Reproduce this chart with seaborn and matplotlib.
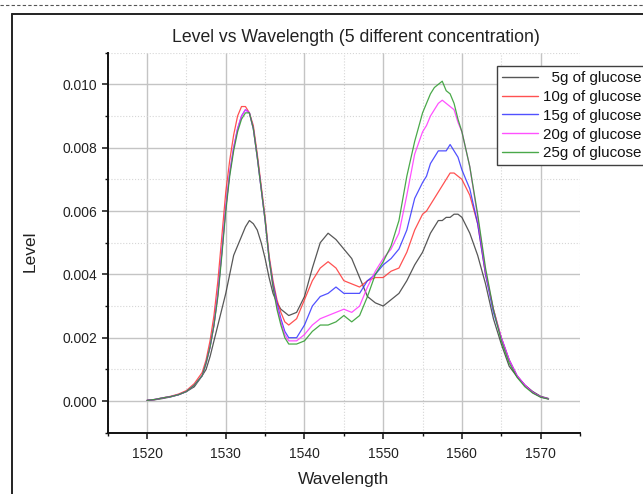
import numpy as np
import pandas as pd
import matplotlib
matplotlib.use("Agg")
import matplotlib.pyplot as plt
from matplotlib.lines import Line2D
from matplotlib.ticker import MultipleLocator, FormatStrFormatter
import seaborn as sns

wavelength = [1520, 1521, 1522, 1523, 1524, 1525, 1526,
              1527, 1527.5, 1528, 1528.5, 1529, 1529.5, 1530, 1530.5, 1531, 1531.5,
              1532, 1532.5, 1533, 1533.5, 1534, 1534.5, 1535, 1535.5, 1536, 1536.5,
              1537, 1537.5, 1538,
              1539, 1540, 1541, 1542, 1543, 1544, 1545, 1546, 1547, 1548, 1549,
              1550, 1551, 1552, 1553, 1554, 1555,
              1555.5, 1556, 1556.5, 1557, 1557.5, 1558, 1558.5, 1559, 1559.5,
              1560, 1561, 1562, 1563, 1564, 1565, 1566, 1567, 1568, 1569, 1570, 1571]

g5 = [0.00002, 0.00004, 0.00008, 0.00013, 0.0002, 0.0003, 0.00045,
      0.0008, 0.0010, 0.0014, 0.0019, 0.0024, 0.0029, 0.0034, 0.0040, 0.0046, 0.0049,
      0.0052, 0.0055, 0.0057, 0.0056, 0.0054, 0.0050, 0.0045, 0.0039, 0.0034, 0.0031,
      0.0029, 0.0028, 0.0027,
      0.0028, 0.0033, 0.0042, 0.0050, 0.0053, 0.0051, 0.0048, 0.0045, 0.0039, 0.0033, 0.0031,
      0.0030, 0.0032, 0.0034, 0.0038, 0.0043, 0.0047,
      0.0050, 0.0053, 0.0055, 0.0057, 0.0057, 0.0058, 0.0058, 0.0059, 0.0059,
      0.0058, 0.0053, 0.0046, 0.0037, 0.0026, 0.0018, 0.0011, 0.00077, 0.0005, 0.0003, 0.00015, 0.00008]

g10 = [0.00002, 0.00005, 0.0001, 0.00015, 0.00022, 0.00033, 0.00055,
       0.0009, 0.0013, 0.0019, 0.0027, 0.0038, 0.0052, 0.0066, 0.0076, 0.0084, 0.0090,
       0.0093, 0.0093, 0.0091, 0.0087, 0.0078, 0.0068, 0.0058, 0.0046, 0.0038, 0.0032,
       0.0028, 0.0025, 0.0024,
       0.0026, 0.0032, 0.0038, 0.0042, 0.0044, 0.0042, 0.0038, 0.0037, 0.0036, 0.0038, 0.0039,
       0.0039, 0.0041, 0.0042, 0.0047, 0.0054, 0.0059,
       0.0060, 0.0062, 0.0064, 0.0066, 0.0068, 0.0070, 0.0072, 0.0072, 0.0071,
       0.0070, 0.0065, 0.0056, 0.0040, 0.0029, 0.0020, 0.0013, 0.0008, 0.0005, 0.00027, 0.00013, 0.00007]

g15 = [0.00002, 0.00005, 0.0001, 0.00014, 0.0002, 0.0003, 0.0005,
       0.0008, 0.0012, 0.0017, 0.0024, 0.0034, 0.0047, 0.0061, 0.0072, 0.0080, 0.0086,
       0.0090, 0.0092, 0.0091, 0.0086, 0.0077, 0.0067, 0.0057, 0.0045, 0.0037, 0.0031,
       0.0026, 0.0022, 0.0020,
       0.0020, 0.0024, 0.0030, 0.0033, 0.0034, 0.0036, 0.0034, 0.0034, 0.0034, 0.0038, 0.0040,
       0.0043, 0.0045, 0.0048, 0.0054, 0.0064, 0.0069,
       0.0071, 0.0075, 0.0077, 0.0079, 0.0079, 0.0079, 0.0081, 0.0079, 0.0077,
       0.0073, 0.0067, 0.0056, 0.0040, 0.0028, 0.0020, 0.0013, 0.0008, 0.0005, 0.00027, 0.00013, 0.00007]

g20 = [0.00002, 0.00005, 0.0001, 0.00014, 0.0002, 0.0003, 0.0005,
       0.0008, 0.0012, 0.0017, 0.0024, 0.0034, 0.0047, 0.0061, 0.0072, 0.0080, 0.0086,
       0.0090, 0.0092, 0.0091, 0.0086, 0.0077, 0.0067, 0.0057, 0.0045, 0.0036, 0.0030,
       0.0025, 0.0021, 0.0019,
       0.0019, 0.0021, 0.0024, 0.0026, 0.0027, 0.0028, 0.0029, 0.0028, 0.0030, 0.0036, 0.0041,
       0.0045, 0.0048, 0.0053, 0.0065, 0.0078, 0.0085,
       0.0087, 0.0090, 0.0092, 0.0094, 0.0095, 0.0094, 0.0093, 0.0092, 0.0088,
       0.0085, 0.0074, 0.0058, 0.0041, 0.0029, 0.0020, 0.0013, 0.0008, 0.0005, 0.00027, 0.00013, 0.00007]

g25 = [0.00002, 0.00005, 0.0001, 0.00014, 0.0002, 0.0003, 0.0005,
       0.0008, 0.0012, 0.0017, 0.0024, 0.0033, 0.0046, 0.0060, 0.0071, 0.0079, 0.0085,
       0.0089, 0.0091, 0.0091, 0.0086, 0.0077, 0.0067, 0.0057, 0.0045, 0.0036, 0.0029,
       0.0024, 0.0020, 0.0018,
       0.0018, 0.0019, 0.0022, 0.0024, 0.0024, 0.0025, 0.0027, 0.0025, 0.0027, 0.0033, 0.0040,
       0.0044, 0.0049, 0.0057, 0.0071, 0.0082, 0.0091,
       0.0094, 0.0097, 0.0099, 0.0100, 0.0101, 0.0098, 0.0097, 0.0094, 0.0089,
       0.0085, 0.0074, 0.0059, 0.0042, 0.0029, 0.0019, 0.0012, 0.00075, 0.00045, 0.00025, 0.00012, 0.00006]

series_labels = ["  5g of glucose", "10g of glucose", "15g of glucose",
                 "20g of glucose", "25g of glucose"]
series_colors = ["#3a3a3a", "#ff3333", "#3333ff", "#ff33ff", "#2a9a2a"]
x_ticks = [1520, 1530, 1540, 1550, 1560, 1570]
y_ticks = [0.000, 0.002, 0.004, 0.006, 0.008, 0.010]

title = "Level vs Wavelength (5 different concentration)"

frames = []
for lab, vals in zip(series_labels, [g5, g10, g15, g20, g25]):
    frames.append(pd.DataFrame({"Wavelength": wavelength, "Level": vals, "Series": lab}))
df = pd.concat(frames, ignore_index=True)

sns.set_style("white")
plt.rcParams["font.family"] = ["Liberation Sans", "DejaVu Sans"]

W, H = 643, 494
fig = plt.figure(figsize=(W / 100, H / 100), dpi=100)
ax_l, ax_r, ax_t, ax_b = 107.7, 580.0, 52.7, 432.7
ax = fig.add_axes([ax_l / W, 1 - ax_b / H, (ax_r - ax_l) / W, (ax_b - ax_t) / H])

sns.lineplot(data=df, x="Wavelength", y="Level", hue="Series",
             palette=dict(zip(series_labels, series_colors)),
             estimator=None, sort=False, linewidth=0.9, alpha=0.85, ax=ax, legend=False)

ax.set_xlim(1515, 1575)
ax.set_ylim(-0.001, 0.011)
ax.xaxis.set_major_locator(MultipleLocator(10))
ax.xaxis.set_minor_locator(MultipleLocator(5))
ax.yaxis.set_major_locator(MultipleLocator(0.002))
ax.yaxis.set_minor_locator(MultipleLocator(0.001))
ax.set_xticks(x_ticks)
ax.set_yticks(y_ticks)
ax.yaxis.set_major_formatter(FormatStrFormatter("%.3f"))

ax.grid(True, which="major", color="#c4c4c4", linewidth=1.0, linestyle="-")
ax.grid(True, which="minor", color="#d6d6d6", linewidth=0.8, linestyle=":")
ax.set_axisbelow(True)

for s in ["top", "right"]:
    ax.spines[s].set_visible(False)
for s in ["left", "bottom"]:
    ax.spines[s].set_color("#111111")
    ax.spines[s].set_linewidth(1.4)

ax.tick_params(axis="both", which="major", direction="out", length=4.3, width=1.1,
               color="#111111", labelsize=10, labelcolor="#222222")
ax.tick_params(axis="both", which="minor", direction="out", length=2.2, width=1.0,
               color="#111111")
ax.tick_params(axis="y", which="major", pad=3.0)
ax.tick_params(axis="x", which="major", pad=6)
ax.tick_params(left=True, bottom=True, which="both")

ax.set_xlabel("Wavelength", fontsize=12.5, color="#222222")
ax.set_ylabel("Level", fontsize=12.5, color="#222222")
ax.xaxis.set_label_coords(0.5, -0.103)
ax.yaxis.set_label_coords(-0.149, 0.478)

fig.text(356.4 / W, 1 - 41.7 / H, title, ha="center", va="baseline",
         fontsize=12.7, color="#222222")

handles = [Line2D([0], [0], color=c, lw=1.0, alpha=0.85) for c in series_colors]
leg = ax.legend(handles, series_labels, loc="upper left",
                bbox_to_anchor=(497.3 / W, 1 - 66 / H), bbox_transform=fig.transFigure,
                borderaxespad=0, fontsize=10.9, frameon=True, fancybox=False,
                handlelength=2.35, handletextpad=0.33, borderpad=0.33,
                labelspacing=0.32, framealpha=1)
leg.get_frame().set_edgecolor("#404040")
leg.get_frame().set_linewidth(1.0)
for t in leg.get_texts():
    t.set_color("#111111")

# outer page frame
fig.add_artist(Line2D([12 / W, 12 / W], [1 - 14 / H, 0], transform=fig.transFigure,
                      color="#222222", lw=1.4))
fig.add_artist(Line2D([12 / W, 1], [1 - 14 / H, 1 - 14 / H], transform=fig.transFigure,
                      color="#222222", lw=1.4))
fig.add_artist(Line2D([0, 1], [1 - 5 / H, 1 - 5 / H], transform=fig.transFigure,
                      color="#555555", lw=0.8, linestyle=(0, (3, 2))))

fig.savefig("out.png", dpi=100)
